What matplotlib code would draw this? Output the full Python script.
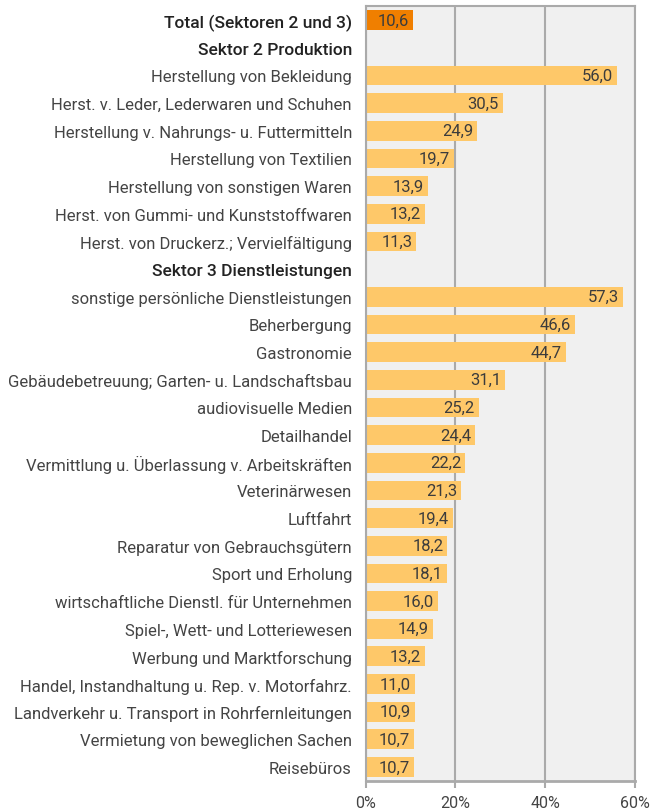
import numpy as np
import matplotlib.pyplot as plt

plt.rcParams['font.family'] = ['Roboto', 'DejaVu Sans']

labels = [
    "Total (Sektoren 2 und 3)",
    "Sektor 2 Produktion",
    "Herstellung von Bekleidung",
    "Herst. v. Leder, Lederwaren und Schuhen",
    "Herstellung v. Nahrungs- u. Futtermitteln",
    "Herstellung von Textilien",
    "Herstellung von sonstigen Waren",
    "Herst. von Gummi- und Kunststoffwaren",
    "Herst. von Druckerz.; Vervielfältigung",
    "Sektor 3 Dienstleistungen",
    "sonstige persönliche Dienstleistungen",
    "Beherbergung",
    "Gastronomie",
    "Gebäudebetreuung; Garten- u. Landschaftsbau",
    "audiovisuelle Medien",
    "Detailhandel",
    "Vermittlung u. Überlassung v. Arbeitskräften",
    "Veterinärwesen",
    "Luftfahrt",
    "Reparatur von Gebrauchsgütern",
    "Sport und Erholung",
    "wirtschaftliche Dienstl. für Unternehmen",
    "Spiel-, Wett- und Lotteriewesen",
    "Werbung und Marktforschung",
    "Handel, Instandhaltung u. Rep. v. Motorfahrz.",
    "Landverkehr u. Transport in Rohrfernleitungen",
    "Vermietung von beweglichen Sachen",
    "Reisebüros",
]
values = [10.6, None, 56.0, 30.5, 24.9, 19.7, 13.9, 13.2, 11.3,
          None, 57.3, 46.6, 44.7, 31.1, 25.2, 24.4, 22.2, 21.3, 19.4,
          18.2, 18.1, 16.0, 14.9, 13.2, 11.0, 10.9, 10.7, 10.7]
bold_rows = [0, 1, 9]
ticks = [0, 20, 40, 60]

fig = plt.figure(figsize=(6.51, 8.12), dpi=100)
ax = fig.add_axes([0.562, 0.037, 0.413, 0.954])
ax.set_facecolor('#f0f0f0')

y = np.arange(len(labels))
for i, v in enumerate(values):
    if v is None:
        continue
    col = '#f07f00' if i == 0 else '#fec869'
    ax.barh(y[i], v, height=0.72, color=col, zorder=2)
    ax.text(v - 0.9, y[i], f"{v:.1f}".replace('.', ','), ha='right', va='center',
            fontsize=12, color='#3c3c3c', zorder=3)

ax.set_ylim(len(labels) - 0.5, -0.5)
ax.set_xlim(0, 60)
ax.set_yticks(y)
ax.set_yticklabels(labels, fontsize=12, color='#444444')
for i in bold_rows:
    lab = ax.get_yticklabels()[i]
    lab.set_fontweight(500)
    lab.set_fontsize(12.5)
    lab.set_color('#222222')
ax.tick_params(axis='y', length=0, pad=10)

ax.set_xticks(ticks)
ax.set_xticklabels([f"{t}%" for t in ticks], fontsize=11.5, color='#444444')
ax.tick_params(axis='x', length=5, width=1.5, color='#aaaaaa', pad=5)
ax.grid(axis='x', color='#aaaaaa', linewidth=1.5, zorder=1)

for s in ['top', 'right', 'left']:
    ax.spines[s].set_color('#aaaaaa')
    ax.spines[s].set_linewidth(1.5)
ax.spines['bottom'].set_color('#aaaaaa')
ax.spines['bottom'].set_linewidth(2)

fig.savefig('out.png', dpi=100)
